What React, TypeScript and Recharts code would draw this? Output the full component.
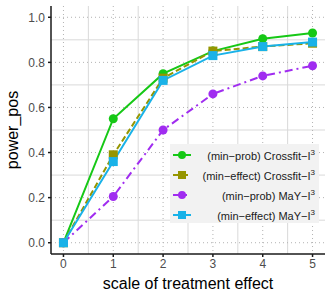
import React from 'react'
import {
  LineChart, Line, XAxis, YAxis, CartesianGrid, Legend,
} from 'recharts'

const effectScale = [0, 1, 2, 3, 4, 5]
const probCrossfit = [0, 0.55, 0.75, 0.85, 0.905, 0.93]
const effectCrossfit = [0, 0.39, 0.73, 0.85, 0.87, 0.885]
const probMaY = [0, 0.205, 0.5, 0.66, 0.74, 0.785]
const effectMaY = [0, 0.36, 0.72, 0.83, 0.87, 0.89]

const xTicks = [0, 1, 2, 3, 4, 5]
const yTicks = [0, 0.2, 0.4, 0.6, 0.8, 1.0]
const xMinor = [0.5, 1.5, 2.5, 3.5, 4.5]
const yMinor = [0.1, 0.3, 0.5, 0.7, 0.9]

const data = effectScale.map((x, i) => ({
  x,
  probCrossfit: probCrossfit[i],
  effectCrossfit: effectCrossfit[i],
  probMaY: probMaY[i],
  effectMaY: effectMaY[i],
}))

const series = [
  { key: 'probCrossfit', method: 'Crossfit−I', prefix: '(min−prob)', color: '#16C816', dash: undefined, shape: 'circle' },
  { key: 'effectCrossfit', method: 'Crossfit−I', prefix: '(min−effect)', color: '#959500', dash: '6 3', shape: 'square' },
  { key: 'probMaY', method: 'MaY−I', prefix: '(min−prob)', color: '#A02CF0', dash: '8 4 2 4', shape: 'circle' },
  { key: 'effectMaY', method: 'MaY−I', prefix: '(min−effect)', color: '#19B2E8', dash: undefined, shape: 'square' },
]

const font = '"Liberation Sans", Arial, sans-serif'

const makeDot = (shape: string, color: string) => (props: any) => {
  const { cx, cy, index } = props
  if (cx == null || cy == null) return <g key={index} />
  if (shape === 'square') {
    return <rect key={index} x={cx - 4.5} y={cy - 4.5} width={9} height={9} fill={color} />
  }
  return <circle key={index} cx={cx} cy={cy} r={4.5} fill={color} />
}

const LegendBox = () => (
  <div style={{
    background: '#F2F2F2', width: 149, height: 79, boxSizing: 'border-box',
    paddingTop: 1, fontFamily: font, fontSize: 11, color: '#1a1a1a',
  }}>
    {series.map((s) => (
      <div key={s.key} style={{ display: 'flex', alignItems: 'center', height: 20 }}>
        <svg width={22} height={14} style={{ marginLeft: 2 }}>
          <line x1={1} y1={7} x2={19} y2={7} stroke={s.color} strokeWidth={2} strokeDasharray={s.dash} />
          {s.shape === 'square'
            ? <rect x={6} y={3} width={8} height={8} fill={s.color} />
            : <circle cx={10} cy={7} r={4} fill={s.color} />}
        </svg>
        <span style={{ flex: 1, textAlign: 'right', paddingRight: 4, whiteSpace: 'nowrap' }}>
          {s.prefix} {s.method}<sup style={{ fontSize: 8 }}>3</sup>
        </span>
      </div>
    ))}
  </div>
)

const App = () => {
  return (
    <div style={{ position: 'absolute', left: 0, top: 0 }}>
      <LineChart width={332} height={299} data={data}
        margin={{ top: 6, right: 7, left: 0, bottom: 0 }}>
        <CartesianGrid stroke="#D9D9D9" strokeWidth={1}
          verticalValues={xMinor} horizontalValues={yMinor} />
        <CartesianGrid stroke="#B3B3B3" strokeDasharray="1 3"
          verticalValues={xTicks} horizontalValues={yTicks} />
        <XAxis dataKey="x" type="number" domain={[-0.25, 5.25]} ticks={xTicks}
          allowDataOverflow height={45} tickSize={3} tickMargin={2}
          stroke="#1a1a1a" strokeWidth={1.5}
          tick={{ fill: '#4D4D4D', fontSize: 12, fontFamily: font }}
          label={{ value: 'scale of treatment effect', position: 'insideBottom', offset: 10,
            style: { fontSize: 16, fill: '#000', fontFamily: font } }} />
        <XAxis xAxisId="top" dataKey="x" type="number" domain={[-0.25, 5.25]} orientation="top"
          height={0} tick={false} tickLine={false} stroke="#333" strokeWidth={1.2} />
        <YAxis type="number" domain={[-0.05, 1.05]} ticks={yTicks} allowDataOverflow
          width={51} tickSize={3} tickMargin={3}
          stroke="#1a1a1a" strokeWidth={1.5}
          tickFormatter={(v: number) => v.toFixed(1)}
          tick={{ fill: '#4D4D4D', fontSize: 12, fontFamily: font }}
          label={{
            content: () => (
              <text x={18} y={130} transform="rotate(-90, 18, 130)" textAnchor="middle"
                fontSize={16} fontFamily={font} fill="#000">power_pos</text>
            ),
          }} />
        <YAxis yAxisId="right" type="number" domain={[-0.05, 1.05]} orientation="right"
          width={0} tick={false} tickLine={false} stroke="#333" strokeWidth={1.2} />
        <Legend layout="vertical" align="center" verticalAlign="middle"
          wrapperStyle={{ position: 'absolute', left: 170, top: 144, width: 149, height: 79 }}
          content={() => <LegendBox />} />
        {series.map((s) => (
          <Line key={s.key} dataKey={s.key} type="linear" stroke={s.color} strokeWidth={2}
            strokeDasharray={s.dash} dot={makeDot(s.shape, s.color)} activeDot={false}
            isAnimationActive={false} />
        ))}
      </LineChart>
    </div>
  )
}

export default App
